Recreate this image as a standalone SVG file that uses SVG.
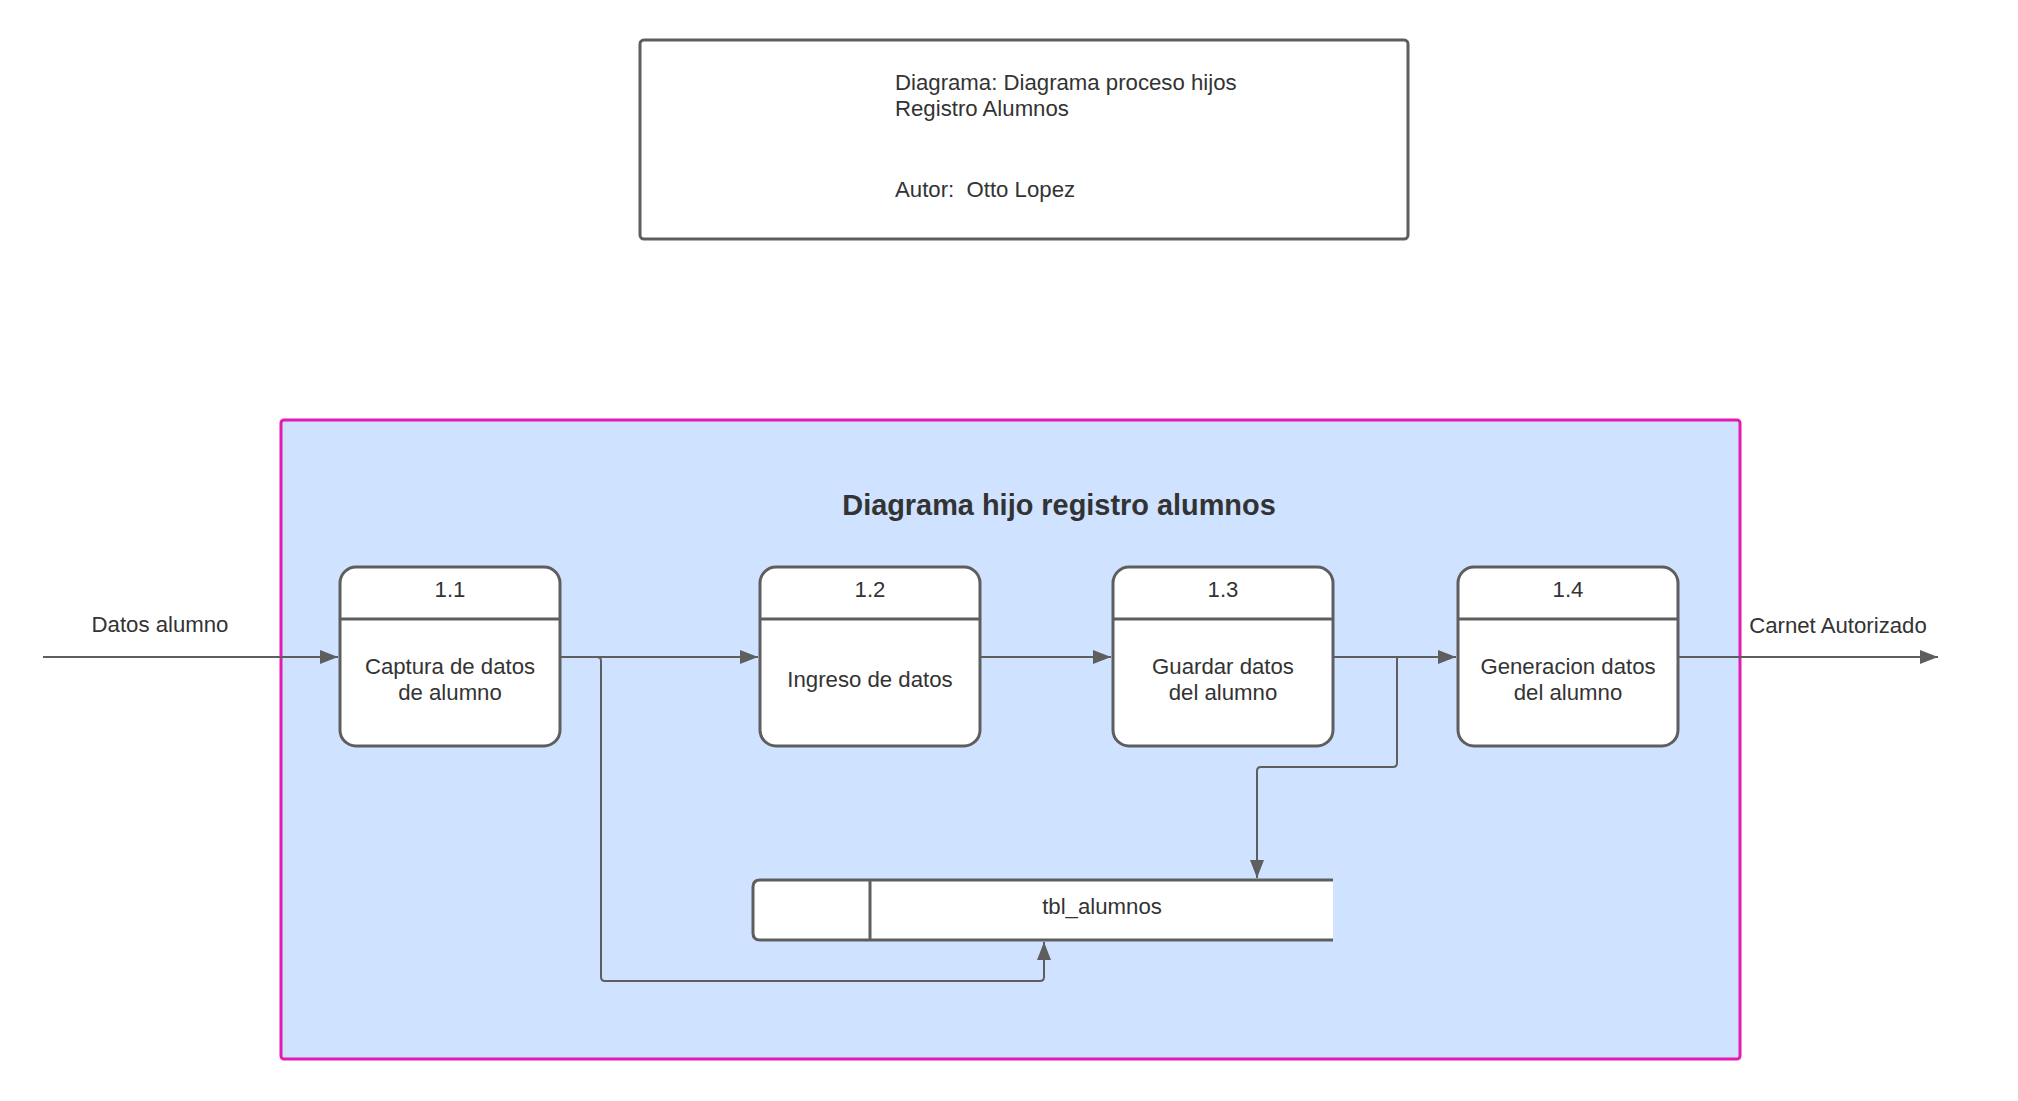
<svg xmlns="http://www.w3.org/2000/svg" width="2018" height="1101" viewBox="0 0 2018 1101">
<style>
text{font-family:"Liberation Sans",Arial,sans-serif;fill:#333333;font-size:22.2px;white-space:pre}
.c{text-anchor:middle}
.box{fill:#ffffff;stroke:#5e5e5e;stroke-width:3}
.ln{fill:none;stroke:#5e5e5e;stroke-width:3}
.conn{fill:none;stroke:#5e5e5e;stroke-width:2}
</style>
<defs>
<marker id="ah" markerWidth="20" markerHeight="14" refX="18" refY="7" orient="auto" markerUnits="userSpaceOnUse">
<path d="M0,0 L18,7 L0,14 Z" fill="#5e5e5e"/>
</marker>
</defs>
<rect width="2018" height="1101" fill="#ffffff"/>
<g id="info">
<rect x="640" y="40" width="768" height="199" rx="4" class="box"/>
<text x="895" y="90">Diagrama: Diagrama proceso hijos</text>
<text x="895" y="116">Registro Alumnos</text>
<text x="895" y="197" xml:space="preserve">Autor:  Otto Lopez</text>
</g>
<g id="container">
<rect x="281" y="420" width="1459" height="639" rx="3" fill="#cfe2ff" stroke="#e31bb2" stroke-width="3"/>
<text x="1059" y="515" class="c" style="font-weight:bold;font-size:28.9px">Diagrama hijo registro alumnos</text>
</g>
<g id="p11">
<rect x="340" y="567" width="220" height="179" rx="16" class="box"/>
<line x1="340" y1="619" x2="560" y2="619" class="ln"/>
<text x="450" y="597" class="c">1.1</text>
<text x="450" y="674" class="c">Captura de datos</text>
<text x="450" y="700" class="c">de alumno</text>
</g>
<g id="p12">
<rect x="760" y="567" width="220" height="179" rx="16" class="box"/>
<line x1="760" y1="619" x2="980" y2="619" class="ln"/>
<text x="870" y="597" class="c">1.2</text>
<text x="870" y="687" class="c">Ingreso de datos</text>
</g>
<g id="p13">
<rect x="1113" y="567" width="220" height="179" rx="16" class="box"/>
<line x1="1113" y1="619" x2="1333" y2="619" class="ln"/>
<text x="1223" y="597" class="c">1.3</text>
<text x="1223" y="674" class="c">Guardar datos</text>
<text x="1223" y="700" class="c">del alumno</text>
</g>
<g id="p14">
<rect x="1458" y="567" width="220" height="179" rx="16" class="box"/>
<line x1="1458" y1="619" x2="1678" y2="619" class="ln"/>
<text x="1568" y="597" class="c">1.4</text>
<text x="1568" y="674" class="c">Generacion datos</text>
<text x="1568" y="700" class="c">del alumno</text>
</g>
<g id="store">
<path d="M1333,880 L760,880 Q753,880 753,887 L753,933 Q753,940 760,940 L1333,940" fill="#ffffff" stroke="#5e5e5e" stroke-width="3"/>
<line x1="870" y1="880" x2="870" y2="940" class="ln"/>
<text x="1102" y="914" class="c">tbl_alumnos</text>
</g>
<g id="connectors">
<line x1="43" y1="657" x2="338" y2="657" class="conn" marker-end="url(#ah)"/>
<text x="160" y="632" class="c">Datos alumno</text>
<line x1="560" y1="657" x2="758" y2="657" class="conn" marker-end="url(#ah)"/>
<path d="M560,657 L597,657 Q601,657 601,661 L601,977 Q601,981 605,981 L1040,981 Q1044,981 1044,977 L1044,942" class="conn" marker-end="url(#ah)"/>
<line x1="980" y1="657" x2="1111" y2="657" class="conn" marker-end="url(#ah)"/>
<line x1="1333" y1="657" x2="1456" y2="657" class="conn" marker-end="url(#ah)"/>
<path d="M1397,657 L1397,763 Q1397,767 1393,767 L1261,767 Q1257,767 1257,771 L1257,878" class="conn" marker-end="url(#ah)"/>
<line x1="1678" y1="657" x2="1938" y2="657" class="conn" marker-end="url(#ah)"/>
<text x="1838" y="633" class="c">Carnet Autorizado</text>
</g>
</svg>
